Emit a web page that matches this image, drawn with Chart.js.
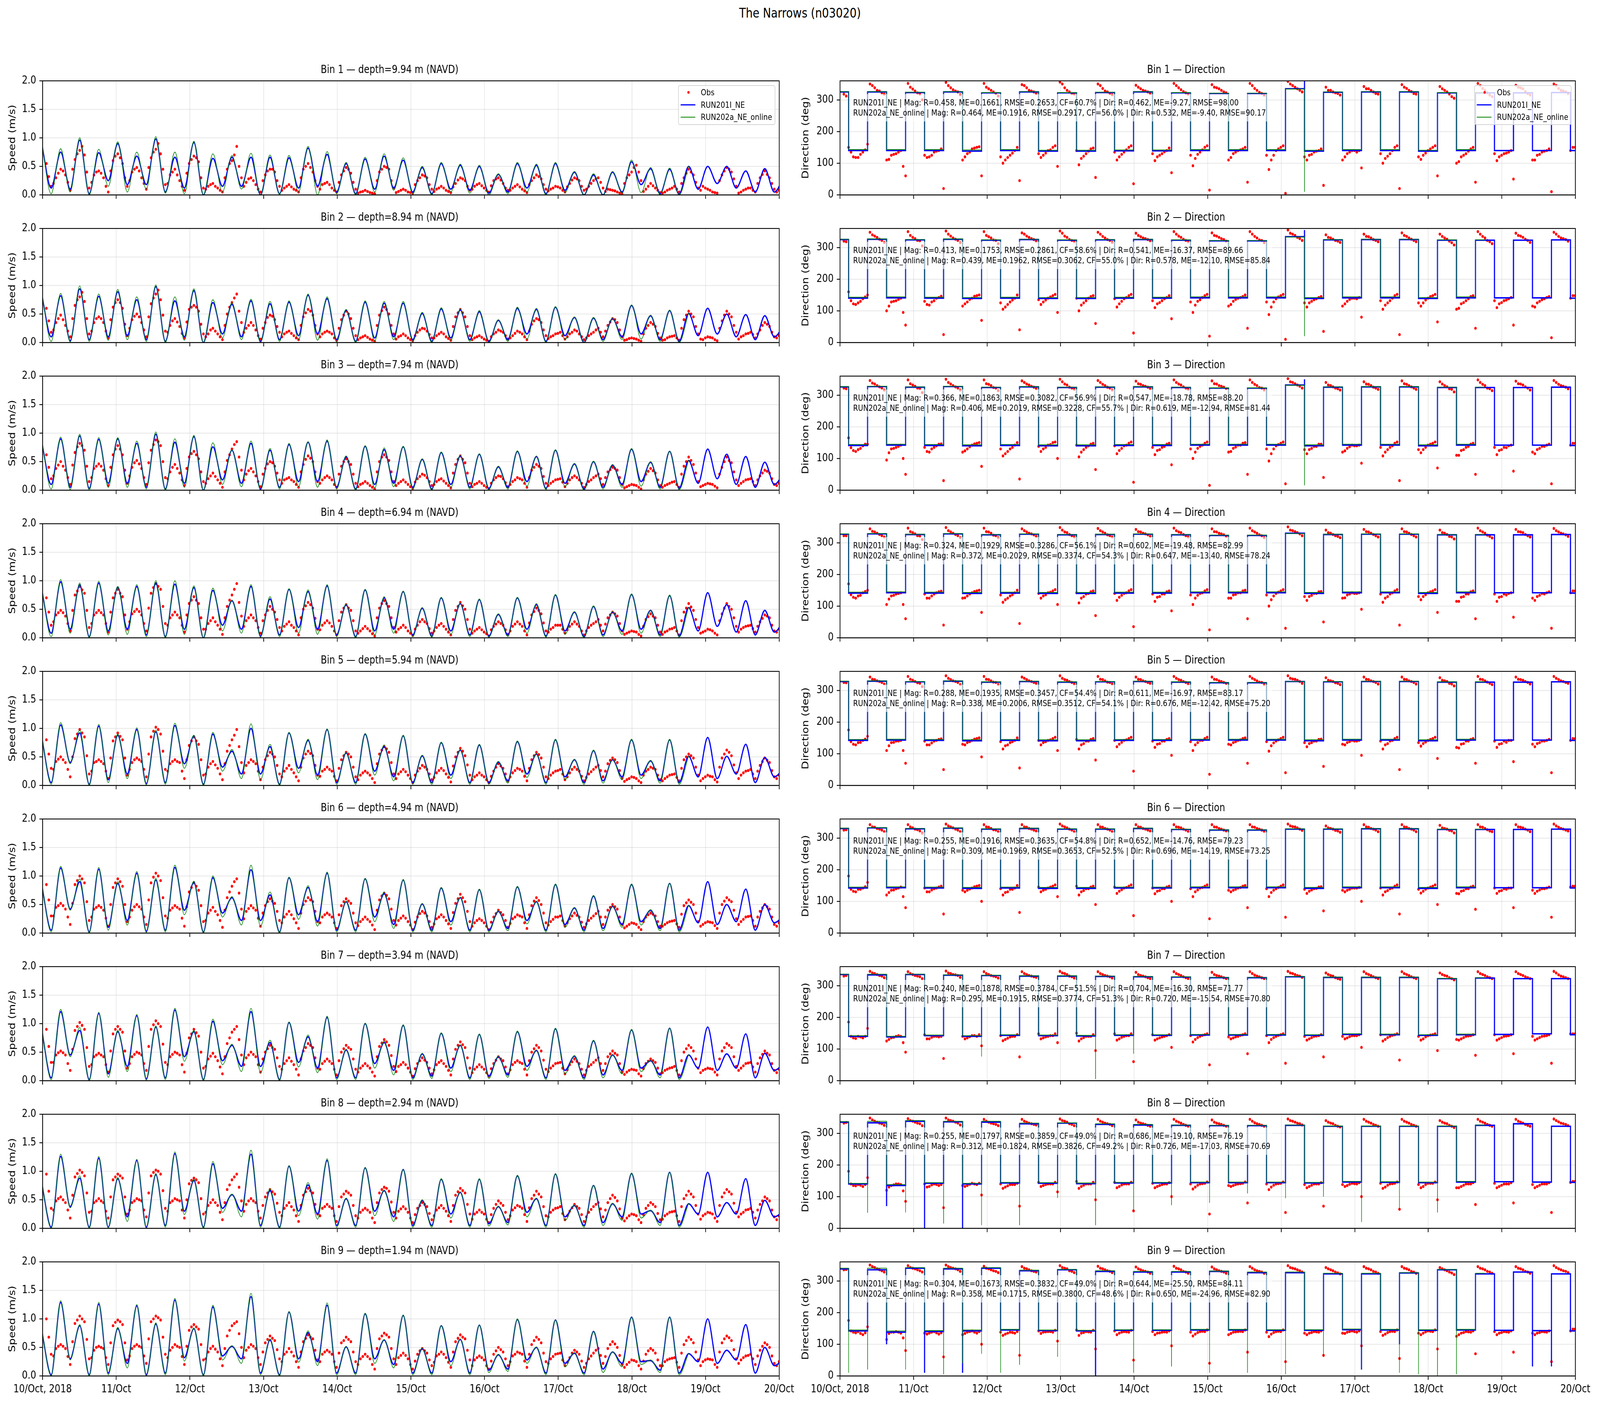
<!DOCTYPE html>
<html>
<head>
<meta charset="utf-8">
<script src="https://cdn.jsdelivr.net/npm/chart.js@4.4.1/dist/chart.umd.min.js"></script>
<style>
  html, body { margin: 0; padding: 0; background: #fff; overflow: hidden; }
  body { position: relative; font-family: 'DejaVu Sans', sans-serif; color: #000; }
  #root { position: absolute; left: 0; top: 0; width: 5000px; height: 3600px; background: #fff; transform-origin: 0 0; }
  canvas { position: absolute; }
  #suptitle { position: absolute; left: 0; top: 13px; width: 5000px; text-align: center; font-size: 34px; line-height: 40px; }
  .stats { position: absolute; font-size: 22px; line-height: 26px; padding: 9px 6px 9px 8px; background: rgba(255,255,255,0.6); white-space: pre; }
  .legend { position: absolute; width: 300px; height: 97px; padding-top: 1px; border: 2px solid #d4d4d4; border-radius: 6px; background: rgba(255,255,255,0.8); font-size: 22px; }
  .legend .row { position: relative; height: 31.5px; line-height: 31.5px; padding-left: 69px; white-space: nowrap; }
  .legend .dot { position: absolute; left: 27px; top: 12px; width: 7px; height: 7px; border-radius: 50%; background: #ff0000; }
  .legend .ln { position: absolute; left: 6px; width: 46px; }
</style>
</head>
<body>
<div id="root"><div id="suptitle">The Narrows (n03020)</div></div>
<script>
// ---- axis labels / titles ----
const DAY_LABELS = ['10/Oct, 2018', '11/Oct', '12/Oct', '13/Oct', '14/Oct', '15/Oct', '16/Oct', '17/Oct', '18/Oct', '19/Oct', '20/Oct'];
const BIN_DEPTHS = ['9.94', '8.94', '7.94', '6.94', '5.94', '4.94', '3.94', '2.94', '1.94'];
const SERIES = ['Obs', 'RUN201I_NE', 'RUN202a_NE_online'];

// sampling of the series (hours after 10/Oct 00:00)
const SPEED_T0 = -0.3, SPEED_DT = 3.1;   // model speed: alternating tide peak / slack
const DIR_T0 = -0.3, DIR_DT = 6.2;       // model direction: one value per half tide
const OBS_T0 = 1.25, OBS_DT = 1.55;      // observations, set A
const OBS_B_T0 = 2.025;                  // observations, set B (between the A samples)

// ---- model speed (m/s) ----
const speed201_1 = [0.90,0.12,0.75,0.10,0.96,0.02,0.74,0.25,0.90,0.18,0.68,0.18,0.98,0.05,0.66,0.12,0.92,0.00,0.64,0.15,0.66,0.15,0.66,0.00,0.66,0.02,0.65,0.12,0.82,0.15,0.71,0.05,0.55,0.02,0.63,0.10,0.68,0.12,0.61,0.05,0.48,0.02,0.55,0.10,0.52,0.08,0.50,0.03,0.36,0.05,0.55,0.12,0.52,0.02,0.55,0.08,0.40,0.00,0.35,0.00,0.40,0.05,0.58,0.18,0.46,0.02,0.45,0.01,0.50,0.10,0.50,0.20,0.50,0.12,0.42,0.05,0.46,0.05,0.30];
const speed202_1 = [0.92,0.02,0.81,0.05,1.00,0.00,0.80,0.15,0.93,0.05,0.75,0.10,1.02,0.03,0.75,0.02,0.94,0.00,0.72,0.05,0.69,0.10,0.73,0.00,0.70,0.01,0.69,0.05,0.85,0.00,0.76,0.02,0.57,0.00,0.66,0.05,0.72,0.08,0.65,0.02,0.50,0.00,0.57,0.05,0.54,0.03,0.52,0.00,0.37,0.02,0.57,0.05,0.54,0.00,0.57,0.04,0.41,0.00,0.37,0.00,0.41,0.03,0.61,0.04,0.48,0.00,0.47,0.00,0.51];
const speed201_2 = [0.85,0.10,0.82,0.03,0.94,0.05,0.81,0.10,0.89,0.12,0.75,0.05,0.98,0.02,0.73,0.10,0.91,0.00,0.70,0.15,0.67,0.10,0.73,0.02,0.68,0.05,0.71,0.12,0.83,0.15,0.77,0.05,0.57,0.02,0.71,0.08,0.69,0.10,0.69,0.05,0.51,0.02,0.59,0.08,0.57,0.05,0.54,0.02,0.39,0.05,0.60,0.15,0.58,0.02,0.62,0.12,0.44,0.00,0.43,0.05,0.42,0.10,0.65,0.15,0.47,0.05,0.56,0.02,0.51,0.12,0.60,0.15,0.50,0.10,0.49,0.05,0.47,0.10,0.30];
const speed202_2 = [0.88,0.02,0.86,0.01,0.99,0.02,0.85,0.04,0.93,0.05,0.80,0.02,1.01,0.00,0.80,0.04,0.94,0.00,0.75,0.08,0.70,0.05,0.76,0.00,0.72,0.02,0.73,0.05,0.85,0.04,0.80,0.01,0.58,0.00,0.73,0.03,0.72,0.05,0.72,0.02,0.53,0.00,0.61,0.04,0.59,0.02,0.56,0.00,0.40,0.02,0.62,0.06,0.60,0.00,0.63,0.05,0.45,0.00,0.44,0.02,0.43,0.05,0.66,0.06,0.48,0.02,0.57,0.00,0.52];
const speed201_3 = [0.85,0.10,0.90,0.05,0.95,0.03,0.89,0.12,0.90,0.12,0.82,0.05,0.98,0.02,0.84,0.12,0.94,0.00,0.76,0.18,0.70,0.12,0.82,0.02,0.70,0.05,0.80,0.15,0.84,0.15,0.86,0.05,0.59,0.02,0.77,0.10,0.71,0.12,0.76,0.05,0.54,0.02,0.66,0.10,0.60,0.05,0.63,0.03,0.41,0.05,0.68,0.15,0.59,0.03,0.70,0.12,0.46,0.02,0.50,0.05,0.44,0.10,0.72,0.15,0.49,0.05,0.68,0.03,0.52,0.12,0.72,0.20,0.63,0.10,0.59,0.05,0.49,0.10,0.30];
const speed202_3 = [0.88,0.02,0.93,0.01,0.98,0.00,0.92,0.05,0.92,0.05,0.86,0.02,1.02,0.00,0.90,0.05,0.96,0.00,0.83,0.10,0.71,0.06,0.86,0.00,0.73,0.02,0.82,0.06,0.85,0.05,0.88,0.02,0.60,0.00,0.78,0.04,0.74,0.06,0.77,0.02,0.55,0.00,0.67,0.05,0.61,0.02,0.64,0.01,0.42,0.02,0.69,0.07,0.60,0.01,0.71,0.06,0.47,0.00,0.51,0.02,0.45,0.05,0.73,0.07,0.50,0.02,0.68,0.01,0.53];
const speed201_4 = [0.85,0.08,0.98,0.15,0.93,0.02,0.96,0.12,0.89,0.15,0.90,0.05,0.96,0.02,0.94,0.15,0.88,0.00,0.83,0.22,0.65,0.15,0.90,0.03,0.68,0.05,0.85,0.18,0.81,0.15,0.91,0.05,0.58,0.02,0.84,0.12,0.70,0.15,0.81,0.05,0.52,0.03,0.70,0.12,0.60,0.05,0.67,0.03,0.41,0.05,0.70,0.15,0.58,0.03,0.75,0.12,0.45,0.02,0.55,0.05,0.45,0.12,0.76,0.15,0.48,0.05,0.74,0.03,0.53,0.12,0.79,0.20,0.58,0.10,0.65,0.05,0.48,0.10,0.30];
const speed202_4 = [0.87,0.02,1.02,0.08,0.96,0.00,0.99,0.05,0.90,0.06,0.93,0.02,1.00,0.00,1.00,0.06,0.91,0.00,0.87,0.12,0.66,0.08,0.93,0.01,0.72,0.02,0.86,0.08,0.84,0.06,0.93,0.02,0.59,0.00,0.85,0.05,0.72,0.08,0.82,0.02,0.53,0.01,0.71,0.06,0.61,0.02,0.68,0.01,0.42,0.02,0.71,0.08,0.60,0.01,0.76,0.06,0.46,0.00,0.56,0.02,0.46,0.06,0.77,0.08,0.48,0.02,0.75,0.01,0.54];
const speed201_5 = [0.85,0.05,1.06,0.40,0.92,0.02,1.04,0.10,0.88,0.20,0.98,0.03,0.94,0.05,1.05,0.38,0.87,0.02,0.90,0.32,0.60,0.20,1.00,0.20,0.68,0.02,0.92,0.30,0.79,0.18,0.98,0.05,0.57,0.05,0.90,0.25,0.68,0.15,0.87,0.05,0.52,0.05,0.75,0.18,0.62,0.05,0.71,0.05,0.41,0.08,0.77,0.20,0.55,0.05,0.80,0.15,0.45,0.05,0.61,0.08,0.45,0.15,0.80,0.18,0.43,0.08,0.80,0.05,0.51,0.15,0.84,0.12,0.51,0.20,0.72,0.05,0.49,0.15,0.30];
const speed202_5 = [0.87,0.02,1.10,0.38,0.97,0.00,1.07,0.05,0.90,0.12,1.01,0.01,0.97,0.02,1.09,0.30,0.88,0.00,0.93,0.25,0.63,0.12,1.08,0.10,0.72,0.00,0.93,0.22,0.81,0.10,0.99,0.02,0.58,0.02,0.91,0.18,0.71,0.08,0.88,0.02,0.53,0.02,0.76,0.12,0.63,0.02,0.72,0.02,0.42,0.04,0.78,0.14,0.56,0.02,0.81,0.10,0.46,0.02,0.62,0.04,0.46,0.10,0.81,0.12,0.44,0.04,0.81,0.02,0.52];
const speed201_6 = [0.85,0.05,1.14,0.42,0.90,0.02,1.12,0.10,0.87,0.22,1.05,0.03,0.93,0.05,1.15,0.40,0.89,0.02,0.97,0.35,0.62,0.22,1.11,0.22,0.67,0.02,0.97,0.32,0.80,0.20,1.05,0.05,0.55,0.05,0.95,0.28,0.69,0.15,0.93,0.05,0.51,0.05,0.79,0.20,0.62,0.05,0.76,0.05,0.38,0.08,0.81,0.22,0.55,0.05,0.85,0.15,0.44,0.05,0.65,0.08,0.47,0.15,0.85,0.20,0.40,0.08,0.87,0.05,0.48,0.18,0.90,0.15,0.50,0.20,0.77,0.05,0.50,0.18,0.30];
const speed202_6 = [0.87,0.02,1.17,0.40,0.95,0.00,1.15,0.05,0.90,0.14,1.08,0.01,0.96,0.02,1.19,0.32,0.91,0.00,1.00,0.28,0.64,0.14,1.19,0.12,0.72,0.00,0.98,0.24,0.83,0.12,1.07,0.02,0.56,0.02,0.96,0.20,0.72,0.08,0.94,0.02,0.52,0.02,0.80,0.14,0.63,0.02,0.77,0.02,0.39,0.04,0.82,0.16,0.56,0.02,0.86,0.10,0.45,0.02,0.66,0.04,0.48,0.10,0.86,0.14,0.41,0.04,0.87,0.02,0.49];
const speed201_7 = [0.90,0.05,1.21,0.45,0.88,0.02,1.18,0.12,0.86,0.25,1.14,0.03,0.94,0.05,1.24,0.42,0.86,0.02,1.04,0.35,0.62,0.25,1.21,0.25,0.67,0.02,1.02,0.32,0.77,0.22,1.11,0.05,0.54,0.05,1.00,0.30,0.67,0.18,0.97,0.05,0.47,0.08,0.83,0.22,0.62,0.05,0.81,0.08,0.42,0.10,0.86,0.25,0.53,0.05,0.91,0.18,0.43,0.05,0.70,0.10,0.45,0.18,0.89,0.22,0.35,0.10,0.92,0.05,0.45,0.22,0.94,0.18,0.47,0.22,0.82,0.05,0.48,0.18,0.30];
const speed202_7 = [0.92,0.02,1.25,0.42,0.93,0.00,1.20,0.06,0.88,0.16,1.16,0.01,0.96,0.02,1.27,0.34,0.88,0.00,1.08,0.28,0.64,0.16,1.27,0.14,0.71,0.00,1.03,0.24,0.80,0.14,1.13,0.02,0.55,0.02,1.01,0.22,0.69,0.10,0.98,0.02,0.48,0.04,0.84,0.16,0.63,0.02,0.82,0.04,0.43,0.06,0.87,0.18,0.54,0.02,0.92,0.12,0.44,0.02,0.71,0.05,0.46,0.12,0.90,0.16,0.36,0.05,0.92,0.02,0.46];
const speed201_8 = [0.80,0.02,1.26,0.38,0.88,0.02,1.23,0.02,0.87,0.20,1.19,0.02,0.94,0.05,1.31,0.30,0.84,0.02,1.13,0.35,0.59,0.30,1.30,0.05,0.66,0.02,1.09,0.30,0.76,0.25,1.19,0.05,0.52,0.05,1.06,0.30,0.66,0.20,1.03,0.05,0.49,0.05,0.86,0.25,0.63,0.05,0.86,0.08,0.38,0.10,0.92,0.28,0.52,0.05,0.95,0.20,0.40,0.05,0.75,0.10,0.43,0.20,0.96,0.25,0.31,0.10,0.98,0.05,0.43,0.25,0.98,0.20,0.45,0.25,0.87,0.05,0.49,0.20,0.30];
const speed202_8 = [0.82,0.00,1.30,0.36,0.92,0.00,1.26,0.01,0.89,0.12,1.21,0.00,0.96,0.02,1.34,0.24,0.86,0.00,1.17,0.28,0.60,0.20,1.37,0.02,0.69,0.00,1.10,0.22,0.80,0.16,1.22,0.02,0.53,0.02,1.07,0.22,0.67,0.12,1.03,0.02,0.50,0.02,0.87,0.18,0.64,0.02,0.87,0.04,0.39,0.06,0.93,0.20,0.53,0.02,0.96,0.14,0.41,0.02,0.75,0.05,0.44,0.14,0.97,0.18,0.32,0.05,0.98,0.02,0.44];
const speed201_9 = [0.80,0.02,1.29,0.30,0.88,0.02,1.26,0.05,0.83,0.22,1.23,0.02,0.91,0.05,1.33,0.32,0.83,0.02,1.21,0.35,0.52,0.30,1.39,0.05,0.63,0.02,1.12,0.30,0.76,0.25,1.24,0.05,0.51,0.05,1.09,0.30,0.63,0.20,1.06,0.05,0.48,0.05,0.88,0.25,0.64,0.05,0.89,0.10,0.37,0.12,0.99,0.28,0.50,0.05,0.98,0.22,0.40,0.05,0.78,0.12,0.42,0.22,1.03,0.25,0.27,0.10,1.03,0.05,0.39,0.25,1.00,0.22,0.45,0.28,0.90,0.05,0.50,0.18,0.30];
const speed202_9 = [0.82,0.00,1.32,0.28,0.90,0.00,1.29,0.02,0.85,0.14,1.25,0.00,0.93,0.02,1.36,0.26,0.84,0.00,1.24,0.28,0.53,0.22,1.45,0.02,0.65,0.00,1.13,0.24,0.79,0.18,1.28,0.02,0.52,0.02,1.10,0.22,0.64,0.14,1.07,0.02,0.49,0.02,0.88,0.18,0.65,0.02,0.89,0.06,0.38,0.08,1.00,0.22,0.51,0.02,0.98,0.16,0.41,0.02,0.78,0.06,0.42,0.16,1.03,0.20,0.28,0.06,1.03,0.02,0.40];

// ---- observed speed (m/s), set A ----
const obsSpeed_1 = [0.55,0.15,0.30,0.45,0.35,0.08,0.62,0.78,0.70,0.12,0.35,0.42,0.30,0.05,0.60,0.72,0.55,0.15,0.40,0.48,0.30,0.10,0.65,0.80,0.72,0.18,0.35,0.45,0.25,0.08,0.55,0.68,0.58,0.12,0.15,0.20,0.12,0.05,0.45,0.60,0.85,0.30,0.22,0.30,0.18,0.05,0.35,0.45,0.40,0.15,0.12,0.18,0.10,0.05,0.45,0.55,0.40,0.15,0.18,0.22,0.12,0.05,0.35,0.48,0.38,0.10,0.05,0.08,0.04,0.02,0.40,0.50,0.45,0.12,0.06,0.10,0.05,0.03,0.25,0.35,0.30,0.10,0.10,0.15,0.08,0.04,0.20,0.30,0.25,0.08,0.15,0.20,0.12,0.05,0.25,0.30,0.20,0.08,0.12,0.18,0.10,0.04,0.25,0.35,0.28,0.10,0.10,0.15,0.12,0.05,0.20,0.30,0.25,0.08,0.15,0.25,0.30,0.12,0.10,0.08,0.05,0.02,0.30,0.40,0.52,0.25,0.10,0.20,0.12,0.04,0.05,0.10,0.15,0.05,0.30,0.45,0.35,0.12,0.15,0.10,0.05,0.03,0.35,0.48,0.40,0.15,0.05,0.10,0.12,0.05,0.30,0.42,0.30,0.10,0.08];
const obsSpeed_2 = [0.60,0.18,0.35,0.48,0.30,0.10,0.65,0.80,0.72,0.15,0.35,0.45,0.35,0.08,0.62,0.75,0.60,0.12,0.40,0.50,0.35,0.10,0.68,0.85,0.75,0.20,0.30,0.42,0.28,0.08,0.58,0.65,0.55,0.15,0.15,0.25,0.15,0.05,0.50,0.70,0.85,0.35,0.25,0.35,0.22,0.06,0.35,0.48,0.40,0.18,0.15,0.20,0.12,0.05,0.45,0.58,0.48,0.15,0.15,0.20,0.15,0.04,0.40,0.55,0.42,0.12,0.08,0.12,0.06,0.02,0.48,0.62,0.50,0.15,0.10,0.15,0.08,0.03,0.18,0.25,0.20,0.08,0.12,0.18,0.10,0.04,0.45,0.58,0.45,0.12,0.08,0.12,0.06,0.02,0.15,0.22,0.18,0.06,0.12,0.20,0.15,0.05,0.32,0.42,0.35,0.12,0.10,0.15,0.18,0.06,0.15,0.22,0.15,0.05,0.12,0.18,0.25,0.10,0.30,0.42,0.35,0.10,0.05,0.08,0.06,0.02,0.25,0.35,0.28,0.08,0.05,0.10,0.12,0.04,0.40,0.55,0.45,0.15,0.05,0.10,0.08,0.03,0.38,0.55,0.45,0.18,0.10,0.15,0.18,0.08,0.22,0.35,0.28,0.10,0.12];
const obsSpeed_3 = [0.62,0.20,0.38,0.50,0.35,0.10,0.66,0.82,0.70,0.15,0.38,0.46,0.35,0.08,0.62,0.78,0.62,0.12,0.40,0.52,0.38,0.10,0.70,0.88,0.78,0.22,0.32,0.45,0.30,0.08,0.58,0.68,0.55,0.15,0.20,0.30,0.18,0.05,0.52,0.72,0.85,0.35,0.28,0.38,0.25,0.06,0.38,0.50,0.42,0.18,0.18,0.22,0.15,0.05,0.45,0.60,0.50,0.15,0.18,0.25,0.18,0.05,0.42,0.55,0.45,0.12,0.10,0.15,0.08,0.02,0.50,0.62,0.52,0.15,0.12,0.18,0.10,0.03,0.20,0.28,0.22,0.08,0.15,0.20,0.12,0.04,0.45,0.60,0.48,0.12,0.10,0.15,0.08,0.02,0.18,0.25,0.20,0.06,0.15,0.22,0.18,0.05,0.35,0.45,0.38,0.12,0.12,0.18,0.20,0.06,0.18,0.25,0.18,0.05,0.15,0.22,0.28,0.10,0.32,0.40,0.35,0.10,0.06,0.10,0.08,0.02,0.28,0.38,0.30,0.08,0.08,0.12,0.15,0.05,0.42,0.58,0.45,0.15,0.08,0.12,0.10,0.04,0.40,0.58,0.48,0.18,0.12,0.18,0.20,0.08,0.25,0.35,0.30,0.10,0.12];
const obsSpeed_4 = [0.70,0.22,0.40,0.48,0.38,0.12,0.75,0.90,0.78,0.18,0.40,0.48,0.40,0.10,0.70,0.85,0.72,0.15,0.42,0.50,0.40,0.12,0.78,0.95,0.85,0.25,0.35,0.45,0.35,0.10,0.60,0.72,0.60,0.15,0.25,0.35,0.22,0.06,0.55,0.75,0.95,0.38,0.30,0.40,0.30,0.08,0.40,0.55,0.45,0.18,0.20,0.28,0.18,0.05,0.50,0.62,0.52,0.15,0.22,0.30,0.20,0.05,0.45,0.58,0.48,0.12,0.12,0.20,0.12,0.03,0.52,0.65,0.55,0.18,0.15,0.22,0.12,0.04,0.22,0.32,0.25,0.08,0.18,0.25,0.15,0.05,0.48,0.62,0.50,0.15,0.12,0.18,0.10,0.03,0.20,0.28,0.22,0.06,0.20,0.28,0.20,0.05,0.40,0.52,0.42,0.12,0.15,0.22,0.22,0.08,0.20,0.28,0.20,0.05,0.18,0.25,0.32,0.12,0.35,0.45,0.38,0.12,0.08,0.12,0.10,0.03,0.32,0.42,0.35,0.10,0.10,0.15,0.18,0.05,0.45,0.60,0.48,0.18,0.10,0.15,0.12,0.05,0.42,0.60,0.50,0.20,0.15,0.20,0.22,0.10,0.28,0.40,0.35,0.12,0.15];
const obsSpeed_5 = [0.80,0.30,0.42,0.50,0.40,0.15,0.82,0.98,0.85,0.20,0.40,0.45,0.38,0.12,0.78,0.92,0.80,0.18,0.40,0.48,0.42,0.15,0.85,1.02,0.90,0.28,0.38,0.45,0.40,0.12,0.70,0.85,0.72,0.18,0.32,0.42,0.30,0.10,0.60,0.80,0.98,0.40,0.35,0.45,0.38,0.10,0.45,0.58,0.50,0.20,0.25,0.35,0.22,0.08,0.48,0.60,0.52,0.18,0.25,0.32,0.25,0.08,0.45,0.58,0.50,0.15,0.18,0.25,0.18,0.05,0.55,0.68,0.58,0.20,0.20,0.28,0.18,0.05,0.25,0.35,0.28,0.10,0.22,0.30,0.20,0.06,0.50,0.65,0.52,0.18,0.15,0.22,0.15,0.05,0.25,0.38,0.30,0.08,0.22,0.30,0.25,0.08,0.45,0.58,0.48,0.15,0.18,0.25,0.28,0.10,0.22,0.32,0.25,0.08,0.20,0.28,0.35,0.15,0.38,0.48,0.40,0.12,0.10,0.15,0.12,0.05,0.25,0.32,0.28,0.10,0.12,0.18,0.20,0.08,0.45,0.55,0.48,0.18,0.12,0.18,0.15,0.06,0.48,0.62,0.52,0.22,0.18,0.25,0.28,0.12,0.35,0.48,0.40,0.15,0.18];
const obsSpeed_6 = [0.85,0.30,0.45,0.52,0.42,0.15,0.85,1.00,0.88,0.22,0.42,0.48,0.40,0.12,0.80,0.95,0.82,0.20,0.40,0.50,0.42,0.15,0.88,1.05,0.92,0.30,0.40,0.48,0.42,0.12,0.72,0.88,0.75,0.20,0.35,0.45,0.32,0.10,0.62,0.82,0.95,0.42,0.38,0.48,0.40,0.12,0.48,0.60,0.52,0.22,0.28,0.38,0.25,0.08,0.50,0.62,0.55,0.20,0.28,0.35,0.28,0.08,0.48,0.60,0.52,0.18,0.20,0.28,0.20,0.06,0.58,0.70,0.60,0.22,0.22,0.30,0.20,0.06,0.28,0.38,0.30,0.10,0.25,0.32,0.22,0.08,0.52,0.68,0.55,0.20,0.18,0.25,0.18,0.06,0.28,0.40,0.32,0.10,0.25,0.32,0.28,0.08,0.48,0.62,0.50,0.18,0.20,0.28,0.30,0.12,0.25,0.35,0.28,0.10,0.22,0.30,0.38,0.15,0.40,0.50,0.42,0.15,0.12,0.18,0.15,0.06,0.28,0.35,0.30,0.12,0.15,0.20,0.22,0.10,0.48,0.58,0.50,0.20,0.15,0.20,0.18,0.08,0.50,0.62,0.55,0.25,0.20,0.28,0.30,0.12,0.38,0.50,0.42,0.15,0.18];
const obsSpeed_7 = [0.90,0.32,0.45,0.52,0.45,0.18,0.88,1.02,0.90,0.25,0.42,0.48,0.42,0.15,0.82,0.95,0.85,0.22,0.42,0.50,0.45,0.18,0.90,1.05,0.95,0.32,0.42,0.50,0.45,0.15,0.75,0.90,0.78,0.22,0.38,0.48,0.35,0.12,0.65,0.85,0.95,0.45,0.40,0.50,0.42,0.15,0.50,0.62,0.55,0.25,0.30,0.40,0.28,0.10,0.52,0.65,0.58,0.22,0.30,0.38,0.30,0.10,0.50,0.62,0.55,0.20,0.22,0.30,0.22,0.08,0.60,0.72,0.62,0.25,0.25,0.32,0.22,0.08,0.30,0.40,0.32,0.12,0.28,0.35,0.25,0.10,0.55,0.68,0.58,0.22,0.20,0.28,0.20,0.08,0.30,0.42,0.35,0.12,0.28,0.35,0.30,0.10,0.50,0.62,0.52,0.20,0.22,0.30,0.32,0.12,0.28,0.38,0.30,0.10,0.25,0.32,0.40,0.18,0.42,0.52,0.45,0.15,0.15,0.20,0.18,0.08,0.30,0.38,0.32,0.12,0.18,0.22,0.25,0.10,0.50,0.62,0.52,0.22,0.18,0.22,0.20,0.10,0.52,0.65,0.58,0.25,0.22,0.30,0.32,0.15,0.40,0.52,0.45,0.18,0.20];
const obsSpeed_8 = [0.95,0.35,0.48,0.55,0.45,0.18,0.90,1.02,0.92,0.28,0.45,0.52,0.45,0.18,0.85,0.95,0.88,0.25,0.45,0.52,0.48,0.20,0.92,1.02,0.95,0.35,0.45,0.52,0.48,0.18,0.78,0.88,0.80,0.25,0.40,0.50,0.40,0.15,0.68,0.85,0.95,0.48,0.42,0.52,0.45,0.18,0.55,0.68,0.60,0.28,0.35,0.45,0.32,0.12,0.58,0.70,0.62,0.25,0.35,0.42,0.35,0.12,0.55,0.65,0.58,0.22,0.28,0.35,0.28,0.10,0.62,0.72,0.65,0.28,0.30,0.38,0.28,0.10,0.35,0.45,0.38,0.15,0.32,0.40,0.30,0.12,0.58,0.70,0.62,0.25,0.25,0.32,0.25,0.10,0.35,0.48,0.40,0.15,0.32,0.40,0.35,0.12,0.52,0.65,0.55,0.22,0.28,0.35,0.38,0.15,0.30,0.42,0.35,0.12,0.28,0.38,0.45,0.20,0.45,0.58,0.48,0.18,0.18,0.25,0.22,0.10,0.35,0.45,0.38,0.15,0.22,0.28,0.30,0.12,0.52,0.65,0.55,0.25,0.22,0.28,0.25,0.12,0.55,0.68,0.60,0.28,0.25,0.32,0.35,0.18,0.42,0.55,0.48,0.20,0.22];
const obsSpeed_9 = [1.00,0.38,0.48,0.55,0.48,0.20,0.92,1.05,0.95,0.30,0.45,0.52,0.48,0.20,0.88,0.98,0.90,0.28,0.48,0.55,0.50,0.22,0.95,1.05,0.98,0.38,0.45,0.55,0.50,0.20,0.80,0.90,0.82,0.28,0.42,0.52,0.42,0.18,0.70,0.88,0.95,0.50,0.45,0.55,0.48,0.20,0.58,0.70,0.62,0.30,0.38,0.48,0.35,0.15,0.60,0.72,0.65,0.28,0.38,0.45,0.38,0.15,0.58,0.68,0.60,0.25,0.30,0.38,0.30,0.12,0.65,0.75,0.68,0.30,0.32,0.40,0.30,0.12,0.38,0.48,0.40,0.18,0.35,0.42,0.32,0.15,0.60,0.72,0.65,0.28,0.28,0.35,0.28,0.12,0.38,0.50,0.42,0.18,0.35,0.42,0.38,0.15,0.55,0.68,0.58,0.25,0.30,0.38,0.40,0.18,0.32,0.45,0.38,0.15,0.30,0.40,0.48,0.22,0.48,0.60,0.50,0.20,0.20,0.28,0.25,0.12,0.38,0.48,0.40,0.18,0.25,0.30,0.32,0.15,0.55,0.68,0.58,0.28,0.25,0.30,0.28,0.15,0.58,0.70,0.62,0.30,0.28,0.35,0.38,0.20,0.45,0.58,0.50,0.22,0.25];

// ---- observed speed (m/s), set B ----
const obsSpeedB_1 = [0.32,0.20,0.38,0.42,0.22,0.45,0.72,0.85,0.40,0.22,0.40,0.38,0.15,0.42,0.68,0.65,0.30,0.25,0.45,0.42,0.20,0.48,0.75,0.90,0.45,0.20,0.40,0.35,0.15,0.38,0.62,0.65,0.30,0.10,0.18,0.15,0.08,0.30,0.55,0.70,0.50,0.15,0.28,0.25,0.10,0.25,0.42,0.45,0.25,0.08,0.15,0.14,0.08,0.30,0.50,0.48,0.25,0.10,0.20,0.18,0.08,0.22,0.42,0.45,0.22,0.03,0.06,0.06,0.03,0.25,0.45,0.48,0.25,0.04,0.08,0.08,0.04,0.18,0.30,0.33,0.18,0.06,0.12,0.12,0.06,0.14,0.26,0.28,0.15,0.10,0.18,0.16,0.08,0.16,0.28,0.26,0.12,0.08,0.15,0.14,0.07,0.18,0.30,0.32,0.18,0.07,0.12,0.14,0.08,0.14,0.26,0.28,0.15,0.10,0.20,0.28,0.22,0.06,0.09,0.07,0.03,0.20,0.35,0.48,0.40,0.06,0.15,0.16,0.08,0.03,0.08,0.12,0.10,0.20,0.38,0.40,0.22,0.08,0.12,0.08,0.04,0.25,0.42,0.45,0.28,0.03,0.08,0.12,0.08,0.20,0.36,0.36,0.20,0.05,0.10];
const obsSpeedB_2 = [0.38,0.22,0.42,0.40,0.20,0.42,0.75,0.88,0.42,0.20,0.42,0.42,0.20,0.40,0.70,0.70,0.32,0.25,0.46,0.45,0.22,0.45,0.78,0.92,0.48,0.18,0.38,0.36,0.16,0.36,0.62,0.62,0.32,0.10,0.22,0.20,0.10,0.30,0.62,0.78,0.55,0.18,0.30,0.30,0.12,0.25,0.44,0.46,0.28,0.10,0.18,0.16,0.08,0.30,0.52,0.55,0.30,0.10,0.18,0.18,0.08,0.25,0.48,0.50,0.25,0.05,0.10,0.09,0.04,0.30,0.56,0.58,0.30,0.06,0.12,0.12,0.05,0.12,0.22,0.24,0.14,0.08,0.15,0.15,0.07,0.28,0.52,0.52,0.28,0.05,0.10,0.09,0.04,0.10,0.18,0.20,0.12,0.08,0.16,0.18,0.10,0.20,0.38,0.40,0.22,0.07,0.12,0.16,0.12,0.10,0.18,0.20,0.10,0.08,0.15,0.22,0.18,0.20,0.36,0.40,0.22,0.04,0.07,0.07,0.04,0.15,0.30,0.32,0.16,0.04,0.08,0.11,0.08,0.25,0.48,0.50,0.28,0.06,0.08,0.09,0.05,0.25,0.48,0.50,0.30,0.06,0.12,0.16,0.14,0.15,0.30,0.32,0.18,0.08,0.14];
const obsSpeedB_3 = [0.40,0.25,0.44,0.42,0.22,0.44,0.76,0.78,0.42,0.22,0.42,0.42,0.20,0.40,0.72,0.72,0.35,0.25,0.48,0.46,0.22,0.48,0.80,0.85,0.50,0.20,0.40,0.38,0.18,0.38,0.64,0.62,0.32,0.12,0.25,0.24,0.12,0.32,0.62,0.80,0.58,0.18,0.34,0.32,0.15,0.28,0.46,0.48,0.30,0.12,0.20,0.18,0.10,0.32,0.54,0.56,0.32,0.12,0.22,0.22,0.10,0.28,0.50,0.50,0.28,0.06,0.12,0.12,0.05,0.32,0.58,0.58,0.32,0.08,0.15,0.14,0.06,0.14,0.24,0.26,0.15,0.10,0.18,0.16,0.08,0.30,0.54,0.54,0.30,0.06,0.12,0.12,0.05,0.12,0.22,0.24,0.13,0.10,0.18,0.20,0.12,0.22,0.40,0.42,0.24,0.08,0.15,0.19,0.14,0.12,0.22,0.22,0.12,0.10,0.18,0.25,0.20,0.22,0.36,0.38,0.22,0.04,0.08,0.09,0.05,0.18,0.33,0.34,0.18,0.05,0.10,0.14,0.10,0.28,0.50,0.52,0.30,0.06,0.10,0.11,0.07,0.28,0.50,0.52,0.32,0.08,0.15,0.19,0.15,0.18,0.30,0.33,0.20,0.08,0.16];
const obsSpeedB_4 = [0.45,0.28,0.44,0.44,0.25,0.48,0.82,0.84,0.48,0.25,0.44,0.44,0.25,0.45,0.78,0.78,0.40,0.28,0.46,0.46,0.25,0.52,0.88,0.90,0.55,0.22,0.40,0.40,0.22,0.40,0.66,0.66,0.35,0.15,0.30,0.28,0.15,0.35,0.66,0.85,0.62,0.20,0.35,0.35,0.18,0.30,0.48,0.50,0.32,0.12,0.24,0.22,0.12,0.35,0.56,0.58,0.34,0.14,0.26,0.26,0.12,0.30,0.52,0.52,0.30,0.08,0.16,0.16,0.07,0.35,0.60,0.60,0.35,0.10,0.18,0.18,0.08,0.15,0.28,0.28,0.16,0.12,0.22,0.20,0.10,0.32,0.55,0.56,0.32,0.08,0.15,0.14,0.07,0.14,0.24,0.25,0.14,0.12,0.24,0.24,0.12,0.26,0.46,0.48,0.26,0.10,0.18,0.22,0.15,0.14,0.24,0.24,0.12,0.12,0.22,0.28,0.22,0.24,0.40,0.42,0.25,0.06,0.10,0.11,0.06,0.20,0.37,0.38,0.22,0.06,0.12,0.16,0.12,0.30,0.52,0.54,0.32,0.08,0.12,0.14,0.08,0.30,0.52,0.55,0.35,0.10,0.18,0.21,0.16,0.20,0.34,0.38,0.22,0.10,0.20];
const obsSpeedB_5 = [0.55,0.28,0.46,0.45,0.28,0.50,0.90,0.92,0.52,0.25,0.42,0.42,0.25,0.48,0.85,0.86,0.48,0.28,0.45,0.45,0.28,0.55,0.95,0.98,0.60,0.25,0.42,0.42,0.25,0.45,0.78,0.78,0.45,0.20,0.38,0.36,0.20,0.38,0.70,0.88,0.68,0.22,0.40,0.42,0.25,0.32,0.52,0.55,0.35,0.15,0.30,0.28,0.15,0.32,0.55,0.56,0.35,0.16,0.28,0.28,0.16,0.30,0.52,0.55,0.32,0.10,0.22,0.22,0.12,0.38,0.62,0.64,0.40,0.12,0.24,0.24,0.12,0.18,0.30,0.32,0.20,0.14,0.26,0.26,0.14,0.34,0.58,0.60,0.36,0.10,0.18,0.18,0.10,0.16,0.32,0.34,0.20,0.15,0.26,0.28,0.16,0.30,0.52,0.54,0.32,0.12,0.22,0.26,0.20,0.15,0.28,0.28,0.16,0.14,0.24,0.32,0.26,0.25,0.44,0.45,0.26,0.07,0.12,0.14,0.08,0.18,0.28,0.30,0.18,0.08,0.15,0.19,0.14,0.30,0.50,0.52,0.32,0.08,0.15,0.16,0.10,0.32,0.55,0.58,0.36,0.12,0.22,0.26,0.20,0.25,0.42,0.44,0.26,0.12,0.22];
const obsSpeedB_6 = [0.58,0.30,0.48,0.48,0.28,0.52,0.92,0.95,0.55,0.28,0.45,0.45,0.26,0.50,0.88,0.90,0.50,0.28,0.46,0.46,0.28,0.58,0.98,1.00,0.62,0.26,0.44,0.45,0.26,0.46,0.80,0.82,0.48,0.22,0.40,0.38,0.22,0.40,0.72,0.90,0.70,0.25,0.43,0.44,0.26,0.35,0.55,0.56,0.38,0.18,0.33,0.32,0.18,0.35,0.56,0.58,0.38,0.18,0.32,0.32,0.18,0.32,0.55,0.56,0.35,0.13,0.24,0.24,0.14,0.40,0.65,0.66,0.42,0.14,0.26,0.26,0.14,0.19,0.34,0.35,0.20,0.16,0.28,0.28,0.16,0.36,0.60,0.62,0.38,0.12,0.22,0.22,0.12,0.19,0.34,0.36,0.22,0.17,0.28,0.30,0.18,0.32,0.56,0.57,0.35,0.14,0.24,0.28,0.22,0.18,0.30,0.31,0.19,0.16,0.26,0.34,0.28,0.28,0.45,0.46,0.28,0.09,0.15,0.17,0.10,0.20,0.32,0.33,0.20,0.12,0.18,0.21,0.16,0.33,0.53,0.54,0.35,0.12,0.18,0.19,0.13,0.35,0.56,0.58,0.40,0.15,0.24,0.29,0.22,0.28,0.44,0.46,0.28,0.12,0.22];
const obsSpeedB_7 = [0.60,0.32,0.49,0.49,0.30,0.55,0.95,0.97,0.58,0.28,0.45,0.45,0.28,0.52,0.90,0.90,0.52,0.30,0.46,0.48,0.30,0.60,0.98,1.00,0.64,0.28,0.46,0.48,0.28,0.48,0.82,0.84,0.50,0.25,0.43,0.42,0.24,0.42,0.75,0.90,0.72,0.28,0.45,0.46,0.28,0.38,0.56,0.58,0.40,0.20,0.35,0.34,0.20,0.38,0.58,0.62,0.40,0.20,0.34,0.34,0.20,0.35,0.56,0.58,0.38,0.15,0.26,0.26,0.15,0.42,0.66,0.68,0.44,0.16,0.28,0.28,0.15,0.21,0.35,0.36,0.22,0.19,0.32,0.30,0.18,0.38,0.62,0.63,0.40,0.14,0.24,0.24,0.14,0.21,0.36,0.38,0.24,0.19,0.32,0.32,0.20,0.35,0.56,0.58,0.36,0.16,0.26,0.31,0.22,0.19,0.33,0.34,0.20,0.18,0.28,0.36,0.30,0.30,0.47,0.48,0.30,0.11,0.18,0.19,0.12,0.21,0.34,0.35,0.22,0.14,0.20,0.23,0.18,0.35,0.56,0.58,0.38,0.14,0.20,0.21,0.15,0.38,0.58,0.62,0.42,0.18,0.26,0.31,0.24,0.30,0.46,0.48,0.30,0.14,0.24];
const obsSpeedB_8 = [0.65,0.32,0.52,0.50,0.32,0.58,0.96,0.98,0.62,0.30,0.48,0.48,0.30,0.55,0.90,0.92,0.55,0.32,0.48,0.50,0.32,0.62,0.98,1.00,0.66,0.30,0.48,0.50,0.32,0.50,0.84,0.85,0.52,0.28,0.45,0.45,0.28,0.45,0.76,0.90,0.72,0.30,0.48,0.48,0.30,0.40,0.62,0.64,0.44,0.22,0.40,0.38,0.22,0.40,0.64,0.66,0.42,0.22,0.38,0.38,0.22,0.38,0.60,0.62,0.40,0.18,0.32,0.32,0.18,0.45,0.68,0.70,0.46,0.18,0.34,0.34,0.18,0.24,0.40,0.42,0.26,0.22,0.36,0.35,0.22,0.40,0.64,0.66,0.42,0.16,0.28,0.28,0.16,0.24,0.42,0.44,0.28,0.22,0.36,0.38,0.24,0.36,0.58,0.60,0.38,0.20,0.32,0.36,0.26,0.22,0.36,0.38,0.24,0.20,0.33,0.42,0.34,0.32,0.52,0.54,0.34,0.13,0.22,0.24,0.15,0.24,0.40,0.42,0.26,0.16,0.25,0.29,0.22,0.38,0.58,0.60,0.40,0.16,0.25,0.27,0.18,0.40,0.62,0.64,0.44,0.20,0.28,0.33,0.28,0.32,0.48,0.52,0.32,0.15,0.26];
const obsSpeedB_9 = [0.68,0.35,0.52,0.52,0.34,0.60,0.98,1.00,0.64,0.32,0.50,0.50,0.32,0.58,0.94,0.95,0.58,0.35,0.52,0.52,0.35,0.65,1.00,1.02,0.68,0.32,0.50,0.52,0.34,0.52,0.86,0.86,0.55,0.30,0.48,0.47,0.30,0.48,0.80,0.92,0.74,0.32,0.50,0.52,0.32,0.42,0.64,0.66,0.46,0.25,0.42,0.42,0.25,0.42,0.66,0.68,0.45,0.25,0.42,0.42,0.25,0.40,0.62,0.64,0.42,0.20,0.34,0.34,0.20,0.48,0.70,0.72,0.48,0.20,0.36,0.36,0.20,0.26,0.44,0.44,0.28,0.24,0.38,0.38,0.24,0.42,0.66,0.68,0.45,0.18,0.32,0.32,0.18,0.26,0.44,0.46,0.30,0.25,0.38,0.40,0.26,0.38,0.62,0.64,0.40,0.22,0.34,0.39,0.28,0.24,0.40,0.42,0.26,0.22,0.35,0.45,0.36,0.34,0.55,0.56,0.36,0.15,0.24,0.27,0.18,0.26,0.44,0.45,0.28,0.18,0.28,0.31,0.24,0.40,0.62,0.64,0.42,0.18,0.28,0.29,0.20,0.42,0.65,0.67,0.46,0.22,0.32,0.36,0.30,0.35,0.52,0.55,0.35,0.18,0.28];

// ---- model direction (deg), one value per half tide ----
const dir201_1 = [325,140,325,140,323,140,325,138,322,140,325,138,322,138,323,139,325,139,322,140,320,140,320,140,335,138,324,140,325,140,325,138,322,140,322,140,322,140,323,140];
const dir202_1 = [326,143,326,143,324,143,326,142,323,143,326,141,323,141,324,142,326,142,323,143,321,143,321,143,334,141,325,143,326,143,326,141,323,143,323];
const dir201_2 = [325,140,326,141,324,140,326,139,323,140,325,139,323,139,324,140,325,140,323,141,321,141,321,141,334,139,324,141,325,141,325,139,323,141,323,141,323,141,324,140];
const dir202_2 = [326,143,327,144,325,143,327,142,324,143,326,142,324,142,325,143,326,143,324,144,322,144,322,144,333,142,325,144,326,144,326,142,324,144,324];
const dir201_3 = [326,141,327,142,325,141,327,140,324,141,326,140,324,140,325,141,326,141,324,142,322,142,322,142,332,140,325,142,326,142,326,140,324,142,324,142,324,142,325,141];
const dir202_3 = [327,144,328,145,326,144,328,143,325,144,327,143,325,143,326,144,327,144,325,145,323,145,323,145,331,143,326,145,327,145,327,143,325,145,325];
const dir201_4 = [327,141,328,142,326,141,328,140,325,141,327,140,325,140,326,141,327,141,325,142,323,142,323,142,330,140,326,142,327,142,327,140,325,142,325,142,325,142,326,141];
const dir202_4 = [328,144,329,145,327,144,329,143,326,144,328,143,326,143,327,144,328,144,326,145,324,145,324,145,329,143,327,145,328,145,328,143,326,145,326];
const dir201_5 = [328,142,329,143,327,142,329,141,326,142,328,141,326,141,327,142,328,142,326,143,324,143,324,143,328,141,327,143,328,143,328,141,326,143,326,143,326,143,327,142];
const dir202_5 = [329,145,330,146,328,145,330,144,327,145,329,144,327,144,328,145,329,145,327,146,325,146,325,146,328,144,328,146,329,146,329,144,327,146,327];
const dir201_6 = [330,142,332,143,329,142,331,141,328,142,330,141,328,141,328,142,330,142,327,143,325,143,325,143,328,141,328,143,329,143,329,141,327,143,327,143,327,143,328,142];
const dir202_6 = [331,145,333,146,330,145,332,144,329,145,331,144,329,144,329,145,331,145,328,146,326,146,326,146,329,144,329,146,330,146,330,144,328,146,328];
const dir201_7 = [335,140,334,138,335,142,333,140,332,143,330,142,330,141,329,143,328,143,327,144,325,144,325,144,328,143,326,146,326,145,326,143,322,145,324,146,322,148,322,145];
const dir202_7 = [336,142,336,140,336,144,334,142,333,145,331,144,331,143,330,145,329,145,328,146,326,146,326,146,329,145,327,148,327,147,327,145,323,147,325];
const dir201_8 = [335,140,333,135,338,142,336,140,335,143,330,142,332,141,328,143,326,143,325,144,324,144,324,144,325,143,322,146,322,145,322,144,322,146,325,147,330,146,322,145];
const dir202_8 = [337,142,338,138,340,144,338,142,338,145,332,144,333,143,330,145,328,145,326,146,325,146,325,146,326,145,323,148,323,147,323,146,323,148,326];
const dir201_9 = [338,142,335,138,340,140,338,142,340,145,332,143,335,142,330,144,328,144,328,145,330,145,326,144,326,144,322,146,322,145,325,144,335,145,322,144,328,143,322,142];
const dir202_9 = [340,145,340,142,342,143,340,145,342,147,334,145,336,144,332,146,330,146,330,147,331,147,328,146,328,146,324,148,324,147,326,146,336,147,324];

// short excursions of the model direction at a turn of the tide: [turn number, deg]
const spikes201_1 = [[24,360]];
const spikes202_1 = [[24,10]];
const spikes201_2 = [[24,355]];
const spikes202_2 = [[24,20]];
const spikes201_3 = [[24,350]];
const spikes202_3 = [[24,15]];
const spikes201_4 = [];
const spikes202_4 = [];
const spikes201_5 = [];
const spikes202_5 = [];
const spikes201_6 = [];
const spikes202_6 = [];
const spikes201_7 = [];
const spikes202_7 = [[7,76],[13,5],[15,85]];
const spikes201_8 = [[2,70],[4,0],[6,0]];
const spikes202_8 = [[1,49],[3,50],[5,15],[7,10],[9,10],[11,96],[13,10],[15,55],[17,73],[19,80],[21,110],[23,95],[25,100],[27,20],[29,60],[31,50]];
const spikes201_9 = [[2,100],[4,10],[6,10],[13,0],[27,20],[29,100],[36,30],[37,30]];
const spikes202_9 = [[0,10],[1,20],[3,20],[5,5],[6,40],[7,70],[8,10],[9,35],[11,60],[15,10],[17,30],[19,10],[21,10],[23,5],[25,60],[27,20],[29,10],[30,5],[31,0],[32,5]];

// ---- observed direction (deg), set A ----
const obsDir_1 = [318,150,120,118,135,160,345,330,322,110,125,130,140,60,340,328,318,125,120,135,140,20,345,332,325,110,130,145,150,60,340,330,320,120,110,125,140,45,345,330,325,130,125,140,150,90,350,330,320,140,115,130,145,55,345,328,320,135,120,135,150,35,340,330,325,130,120,130,140,70,345,332,322,125,115,135,150,15,340,335,325,110,130,140,145,40,345,330,320,125,110,140,150,5,350,340,330,120,125,135,140,30,330,325,320,110,130,140,135,85,335,330,320,130,115,130,150,20,340,330,320,120,125,140,150,60,335,325,310,100,120,130,145,40,345,330,315,130,120,130,135,50,340,335,320,110,125,135,140,10,345,330,325,140,150];
const obsDir_2 = [320,160,122,125,138,150,340,332,322,100,128,132,140,55,338,328,320,130,118,132,142,25,342,330,322,115,128,140,148,70,338,330,322,125,112,128,140,40,342,332,325,135,128,140,148,95,345,332,322,140,118,132,145,60,342,330,322,138,122,138,148,30,338,330,325,132,122,132,142,75,342,332,322,128,118,135,148,20,338,332,325,115,130,140,145,45,342,330,322,128,112,138,148,10,345,338,328,125,125,135,142,35,332,326,320,115,130,140,138,80,335,330,322,132,118,132,148,25,338,330,322,125,125,140,148,65,335,326,315,105,122,132,145,45,342,330,318,132,122,132,138,55,338,332,322,115,125,135,142,15,342,330,325,140,148];
const obsDir_3 = [322,165,125,128,140,145,338,330,322,95,130,135,142,50,336,328,320,135,120,135,145,30,340,330,322,120,130,142,148,75,336,330,322,130,115,130,142,35,340,332,325,138,130,142,150,100,342,332,322,142,120,135,145,65,340,330,322,140,125,140,148,25,336,330,325,135,125,135,145,80,340,332,322,130,120,138,148,15,336,330,325,120,132,142,148,50,340,330,322,130,115,140,148,20,342,336,328,128,128,138,145,40,332,326,320,120,132,142,140,85,335,330,322,135,120,135,148,30,336,330,322,128,128,142,148,70,335,326,318,110,125,135,145,50,340,330,320,135,125,135,140,60,336,332,322,120,128,138,142,20,340,330,325,142,148];
const obsDir_4 = [322,170,128,132,142,150,336,330,322,105,132,138,142,60,335,328,320,138,125,138,145,40,338,330,322,125,132,142,148,80,335,330,322,135,120,132,142,45,338,330,325,140,132,142,148,105,340,332,322,142,125,138,145,70,338,330,322,140,128,140,148,35,335,330,325,138,128,138,145,85,338,332,322,135,125,140,148,25,335,330,325,125,135,142,148,60,338,330,322,135,120,140,148,30,340,335,328,130,130,140,145,50,332,326,320,125,135,142,140,90,335,330,322,138,125,138,148,40,335,330,322,130,130,142,148,80,332,326,318,115,128,138,145,60,338,330,320,138,128,138,140,65,335,332,322,125,130,140,142,30,338,330,325,142,148];
const obsDir_5 = [325,175,130,135,142,155,335,330,325,110,135,140,142,70,335,328,322,140,128,140,145,50,338,330,325,130,135,142,148,90,335,330,325,138,125,135,142,55,338,330,325,142,135,142,148,110,338,332,325,145,128,140,145,80,335,330,325,142,130,142,148,45,335,330,325,140,130,140,145,95,338,332,325,138,128,142,148,35,335,330,325,130,135,142,148,70,338,330,325,138,125,140,148,40,338,335,328,135,132,140,145,60,332,328,322,130,135,142,140,95,335,330,325,140,128,140,148,50,335,330,325,135,132,142,148,85,332,328,320,120,130,140,145,70,335,330,322,140,130,140,142,75,335,332,325,130,132,140,142,40,338,330,325,142,148];
const obsDir_6 = [325,180,132,138,142,160,335,330,325,120,135,140,145,80,335,328,322,142,130,140,145,60,338,332,325,135,135,142,148,100,335,330,325,140,128,138,142,65,335,330,325,145,135,142,148,115,338,332,325,148,130,140,145,90,335,330,325,145,132,142,148,55,335,330,325,142,132,140,145,100,335,332,325,140,130,142,148,45,335,330,325,135,135,142,148,80,335,330,325,140,128,140,148,50,338,335,328,138,132,140,145,70,332,328,322,135,135,142,142,100,335,330,325,142,130,140,148,60,335,330,325,138,132,142,148,90,332,328,322,125,132,140,145,75,335,330,322,142,132,140,142,80,335,332,325,135,132,140,142,50,338,330,325,145,148];
const obsDir_7 = [330,185,135,140,135,165,340,335,330,125,135,140,140,90,338,332,328,145,132,140,138,70,340,335,332,140,135,142,140,110,338,332,328,142,130,138,140,75,338,332,328,148,135,140,142,120,340,335,328,150,132,140,140,95,338,332,328,148,132,140,142,60,335,330,325,145,132,138,142,105,338,332,325,142,130,140,145,50,335,330,325,138,135,140,145,85,338,330,325,142,130,140,145,55,340,335,330,140,132,140,142,75,335,330,322,140,135,142,142,105,338,332,325,145,130,140,145,65,338,332,325,140,132,142,145,95,335,330,322,130,132,140,142,80,338,332,325,145,132,140,142,85,338,332,325,140,132,140,142,55,340,330,325,148,148];
const obsDir_8 = [332,180,135,138,132,160,342,335,330,120,135,140,138,85,340,335,330,140,132,140,135,65,342,338,332,135,135,142,138,105,338,332,328,140,130,138,138,70,338,332,328,145,135,140,140,115,340,335,328,148,132,140,140,90,338,332,328,145,132,140,140,55,335,330,325,142,132,138,140,100,338,332,325,140,130,140,142,45,335,330,325,135,135,140,142,80,338,330,325,140,130,140,142,50,340,335,330,138,132,140,140,70,335,330,322,138,135,142,140,100,338,332,325,142,130,140,142,60,338,332,325,138,132,142,142,90,335,330,322,128,132,140,140,75,338,332,325,142,132,140,140,80,338,332,325,138,132,140,140,50,340,332,328,145,148];
const obsDir_9 = [335,175,138,140,130,155,345,338,332,115,138,140,135,80,342,338,332,135,135,140,132,60,345,340,335,130,138,142,135,100,340,335,330,138,132,138,135,65,340,335,330,142,138,140,138,110,342,338,330,145,135,140,138,85,340,335,330,142,135,140,138,50,338,332,328,140,135,138,138,95,340,335,328,138,132,140,140,40,338,332,328,130,138,140,140,75,340,332,328,138,132,140,140,45,342,338,332,135,135,140,138,65,338,332,325,135,138,142,138,95,340,335,328,140,132,140,140,55,340,335,328,135,135,142,140,85,338,332,325,125,135,140,138,70,340,335,328,140,135,140,138,75,340,335,328,135,135,140,138,45,342,335,330,142,148];

// ---- observed direction (deg), set B ----
const obsDirB_1 = [312,135,118,128,142,350,338,328,318,112,128,135,90,352,334,322,300,118,125,138,145,355,338,328,316,120,135,148,152,352,335,325,312,100,118,132,150,348,338,328,320,118,132,142,155,356,338,325,318,95,122,138,148,350,336,325,316,110,128,142,155,346,335,328,320,108,125,136,148,352,338,326,318,92,128,142,155,348,338,330,322,118,135,142,150,352,336,324,315,80,125,145,155,358,345,335,325,110,128,138,145,340,330,322,315,120,135,140,140,342,335,325,318,100,122,140,155,348,336,326,318,112,132,145,155,342,330,318,305,105,125,138,150,352,336,322,310,108,125,132,140,346,338,326,315,110,128,138,145,350,336,328,320,150,138];
const obsDirB_2 = [318,132,120,130,144,348,336,326,316,115,130,136,95,350,332,322,305,120,128,140,146,352,336,326,315,122,136,146,150,350,334,324,312,105,120,134,150,346,336,328,320,120,134,144,152,352,336,325,318,100,125,140,148,348,335,325,316,112,130,142,152,345,334,328,320,110,126,138,148,350,336,326,318,95,130,142,152,346,336,328,320,120,136,142,150,350,335,324,315,88,128,144,152,355,342,332,322,112,130,138,145,340,330,322,316,122,136,140,142,342,334,325,318,105,125,140,152,346,335,326,318,115,134,145,152,342,330,320,308,108,126,138,148,350,335,322,312,110,126,134,142,345,336,326,316,112,130,138,145,348,335,328,320,148,138];
const obsDirB_3 = [320,134,122,132,145,346,335,326,316,118,132,138,100,348,332,322,308,122,130,140,146,350,335,326,316,124,137,146,150,348,334,324,314,108,122,135,150,345,335,328,320,122,135,144,152,350,335,325,318,105,128,140,148,346,334,325,316,115,132,142,152,344,334,328,320,112,128,138,148,348,335,326,318,100,132,142,152,345,335,328,320,122,136,142,150,348,334,324,316,92,130,144,152,352,340,332,322,115,132,138,145,340,330,322,316,124,137,140,142,342,334,325,318,108,128,140,152,345,334,326,318,118,135,145,152,342,330,320,310,110,128,138,148,348,334,322,314,112,128,134,142,344,335,326,316,115,132,138,145,346,334,328,320,148,140];
const obsDirB_4 = [322,136,125,134,146,344,334,326,318,122,134,140,105,346,332,322,310,125,132,142,147,348,334,326,316,126,138,146,150,346,334,324,316,112,125,136,150,344,334,328,320,125,136,144,152,348,334,326,318,110,130,140,148,345,334,325,318,118,134,142,152,342,334,328,320,115,130,138,148,346,334,326,318,105,134,142,152,344,334,328,320,125,137,142,150,346,334,325,316,100,132,144,152,350,338,332,322,118,134,140,146,340,330,322,316,126,138,140,142,342,334,326,318,112,130,142,152,344,334,326,318,120,136,145,152,340,330,320,312,115,130,138,148,346,334,324,315,115,130,135,142,342,334,326,318,118,134,138,145,345,334,328,320,148,140];
const obsDirB_5 = [324,138,128,136,146,342,334,328,320,125,136,140,110,344,332,324,312,128,134,142,147,346,334,328,318,128,138,146,150,344,334,326,318,115,128,138,150,342,334,328,322,128,138,144,152,346,334,328,320,115,132,140,148,344,334,326,320,122,136,144,152,342,334,328,322,120,132,140,148,344,334,328,320,110,135,142,152,342,334,328,322,128,138,144,150,344,334,326,318,108,134,144,152,346,336,332,322,122,135,140,146,340,330,324,318,128,138,140,142,342,334,328,320,115,132,142,152,342,334,328,320,124,137,145,152,340,330,322,314,118,132,140,148,344,334,326,318,120,132,136,142,342,334,328,320,122,135,140,145,344,334,328,322,148,140];
const obsDirB_6 = [326,138,130,138,146,342,334,328,320,128,136,142,115,342,332,326,315,130,136,142,148,344,335,328,320,130,139,146,150,342,334,326,320,120,130,138,150,342,334,328,322,130,138,145,152,344,335,328,320,120,134,140,148,342,334,328,320,125,137,144,152,342,334,328,322,124,134,140,148,342,334,328,320,115,136,144,152,342,334,328,322,130,138,144,150,342,334,328,320,115,135,144,152,344,336,332,324,125,136,141,146,338,330,324,318,130,138,142,144,342,334,328,320,120,134,142,152,342,334,328,320,126,138,145,152,340,330,324,316,124,134,140,148,342,334,326,320,125,134,138,142,342,334,328,320,125,136,140,145,344,334,328,322,148,142];
const obsDirB_7 = [332,140,133,138,140,345,338,332,325,130,137,142,120,344,335,330,322,132,137,140,140,346,338,334,326,132,139,142,145,344,335,330,324,126,134,140,145,344,335,330,326,132,138,142,148,345,338,330,324,125,136,140,145,344,335,330,324,128,137,142,148,342,332,328,322,128,135,140,145,344,335,328,322,122,136,143,148,342,332,328,322,132,138,143,148,344,333,328,322,120,136,143,148,345,338,332,326,128,136,141,145,340,332,325,320,132,139,142,145,344,335,328,322,125,136,143,148,344,335,328,322,128,138,144,148,340,332,325,318,128,136,141,145,344,335,328,322,128,136,141,145,344,335,328,322,128,136,141,145,345,334,328,322,148,142];
const obsDirB_8 = [334,140,134,136,138,348,338,332,325,130,137,140,118,346,338,332,324,130,137,138,138,348,340,335,326,132,139,140,142,344,335,330,324,126,134,138,142,344,335,330,326,132,138,140,145,345,338,330,324,126,136,140,145,344,335,330,324,128,137,140,145,342,332,328,322,128,135,140,144,344,335,328,322,124,136,141,146,342,332,328,322,132,138,141,146,344,333,328,322,122,136,141,146,345,338,332,326,128,136,140,144,340,332,325,320,132,139,141,144,344,335,328,322,126,136,141,146,344,335,328,322,128,138,142,146,340,332,325,318,128,136,140,144,344,335,328,322,128,136,140,144,344,335,328,322,128,136,140,144,345,336,330,324,148,142];
const obsDirB_9 = [336,142,136,134,136,350,342,335,328,134,138,138,120,348,340,335,328,132,138,136,136,350,342,338,330,134,140,138,140,346,338,332,326,128,135,137,140,345,338,332,328,134,139,140,144,348,340,332,326,128,137,139,144,346,338,332,326,130,138,139,144,344,335,330,324,130,136,139,142,346,338,330,324,126,137,141,145,344,335,330,324,134,139,141,145,345,335,330,324,124,137,141,145,348,340,335,328,130,137,139,142,342,335,328,322,134,140,140,142,345,338,330,324,128,137,141,145,345,338,330,324,130,139,141,145,342,335,328,320,130,137,139,142,345,338,330,324,130,137,139,142,345,338,330,324,130,137,139,142,348,338,332,326,148,142];

// ---- skill scores shown in the direction panels ----
const MAG_R_201 = [0.458, 0.413, 0.366, 0.324, 0.288, 0.255, 0.240, 0.255, 0.304];
const MAG_ME_201 = [0.1661, 0.1753, 0.1863, 0.1929, 0.1935, 0.1916, 0.1878, 0.1797, 0.1673];
const MAG_RMSE_201 = [0.2653, 0.2861, 0.3082, 0.3286, 0.3457, 0.3635, 0.3784, 0.3859, 0.3832];
const CF_201 = [60.7, 58.6, 56.9, 56.1, 54.4, 54.8, 51.5, 49.0, 49.0];
const DIR_R_201 = [0.462, 0.541, 0.547, 0.602, 0.611, 0.652, 0.704, 0.686, 0.644];
const DIR_ME_201 = [-9.27, -16.37, -18.78, -19.48, -16.97, -14.76, -16.30, -19.10, -25.50];
const DIR_RMSE_201 = [98.00, 89.66, 88.20, 82.99, 83.17, 79.23, 71.77, 76.19, 84.11];
const MAG_R_202 = [0.464, 0.439, 0.406, 0.372, 0.338, 0.309, 0.295, 0.312, 0.358];
const MAG_ME_202 = [0.1916, 0.1962, 0.2019, 0.2029, 0.2006, 0.1969, 0.1915, 0.1824, 0.1715];
const MAG_RMSE_202 = [0.2917, 0.3062, 0.3228, 0.3374, 0.3512, 0.3653, 0.3774, 0.3826, 0.3800];
const CF_202 = [56.0, 55.0, 55.7, 54.3, 54.1, 52.5, 51.3, 49.2, 48.6];
const DIR_R_202 = [0.532, 0.578, 0.619, 0.647, 0.676, 0.696, 0.720, 0.726, 0.650];
const DIR_ME_202 = [-9.40, -12.10, -12.94, -13.40, -12.42, -14.19, -15.54, -17.03, -24.96];
const DIR_RMSE_202 = [90.17, 85.84, 81.44, 78.24, 75.20, 73.25, 70.80, 70.69, 82.90];

const SPEED_201 = [speed201_1, speed201_2, speed201_3, speed201_4, speed201_5, speed201_6, speed201_7, speed201_8, speed201_9];
const SPEED_202 = [speed202_1, speed202_2, speed202_3, speed202_4, speed202_5, speed202_6, speed202_7, speed202_8, speed202_9];
const OBS_SPEED = [obsSpeed_1, obsSpeed_2, obsSpeed_3, obsSpeed_4, obsSpeed_5, obsSpeed_6, obsSpeed_7, obsSpeed_8, obsSpeed_9];
const OBS_SPEED_B = [obsSpeedB_1, obsSpeedB_2, obsSpeedB_3, obsSpeedB_4, obsSpeedB_5, obsSpeedB_6, obsSpeedB_7, obsSpeedB_8, obsSpeedB_9];
const DIR_201 = [dir201_1, dir201_2, dir201_3, dir201_4, dir201_5, dir201_6, dir201_7, dir201_8, dir201_9];
const DIR_202 = [dir202_1, dir202_2, dir202_3, dir202_4, dir202_5, dir202_6, dir202_7, dir202_8, dir202_9];
const SPIKES_201 = [spikes201_1, spikes201_2, spikes201_3, spikes201_4, spikes201_5, spikes201_6, spikes201_7, spikes201_8, spikes201_9];
const SPIKES_202 = [spikes202_1, spikes202_2, spikes202_3, spikes202_4, spikes202_5, spikes202_6, spikes202_7, spikes202_8, spikes202_9];
const OBS_DIR = [obsDir_1, obsDir_2, obsDir_3, obsDir_4, obsDir_5, obsDir_6, obsDir_7, obsDir_8, obsDir_9];
const OBS_DIR_B = [obsDirB_1, obsDirB_2, obsDirB_3, obsDirB_4, obsDirB_5, obsDirB_6, obsDirB_7, obsDirB_8, obsDirB_9];

// ---- layout (in figure pixels of a 5000 x 3600 figure) ----
const FIG_W = 5000, FIG_H = 3600;
const FONT = "'DejaVu Sans', sans-serif";
const ROW_TOP = 207, ROW_PITCH = 378, PLOT_H = 292;
const MARGIN_TOP = 70, MARGIN_BOTTOM = 70, MARGIN_RIGHT = 70;
const COLS = [
  { plotLeft: 133, plotWidth: 2302, axisWidth: 133, labelPad: 23.2 },
  { plotLeft: 2625, plotWidth: 2298, axisWidth: 135, labelPad: 12.2 },
];
const GRID = 'rgba(176,176,176,0.3)';
const BLUE = '#0000ff', GREEN = '#008000', RED = '#ff0000';

// fit the figure to the viewport actually given to the page
const root = document.getElementById('root');
const SX = Math.min(1, window.innerWidth / FIG_W);
const SY = Math.min(1, window.innerHeight / FIG_H);
const PIXEL_RATIO = Math.max(1, (window.devicePixelRatio || 1) * Math.min(SX, SY));
root.style.transform = 'scale(' + SX + ',' + SY + ')';
document.body.style.width = (FIG_W * SX) + 'px';
document.body.style.height = (FIG_H * SY) + 'px';

const framePlugin = {
  id: 'frame',
  afterDatasetsDraw(chart) {
    const { ctx, chartArea: a } = chart;
    ctx.save();
    ctx.strokeStyle = '#000';
    ctx.lineWidth = 2.2;
    ctx.strokeRect(a.left, a.top, a.right - a.left, a.bottom - a.top);
    ctx.restore();
  }
};

function series(vals, t0, dt) {
  return vals.map((v, i) => ({ x: t0 + dt * i, y: v }));
}

function spikeSeries(spikes, plateaus) {
  const out = [];
  spikes.forEach(([n, v]) => {
    const t = DIR_T0 + DIR_DT * (n + 0.5);
    const a = plateaus[n], b = plateaus[n + 1] !== undefined ? plateaus[n + 1] : a;
    const base = v < 230 ? Math.min(a, b) : Math.max(a, b);
    out.push({ x: t, y: base }, { x: t, y: v }, { x: t, y: null });
  });
  return out;
}

function addCanvas(col, row) {
  const c = document.createElement('canvas');
  const w = col.axisWidth + col.plotWidth + MARGIN_RIGHT;
  const h = MARGIN_TOP + PLOT_H + MARGIN_BOTTOM;
  c.width = w; c.height = h;
  c.style.width = w + 'px'; c.style.height = h + 'px';
  c.style.left = (col.plotLeft - col.axisWidth) + 'px';
  c.style.top = (ROW_TOP + row * ROW_PITCH - MARGIN_TOP) + 'px';
  root.appendChild(c);
  return c;
}

function xAxis(showLabels) {
  return {
    type: 'linear', min: 0, max: 240,
    afterFit: s => { s.height = MARGIN_BOTTOM; s.paddingLeft = 0; s.paddingRight = 0; },
    ticks: {
      stepSize: 24, autoSkip: false, maxRotation: 0, minRotation: 0, display: showLabels,
      color: '#000', font: { family: FONT, size: 28 }, padding: 8,
      callback: v => DAY_LABELS[Math.round(v / 24)]
    },
    grid: { color: GRID, lineWidth: 2, drawTicks: true, tickLength: 10, tickColor: '#000', tickWidth: 2.2 },
    border: { display: true, color: '#000', width: 2.2 }
  };
}

function yAxis(col, max, step, fmt, label) {
  return {
    type: 'linear', min: 0, max: max,
    afterFit: s => { s.width = col.axisWidth; s.paddingTop = 0; s.paddingBottom = 0; },
    ticks: { stepSize: step, includeBounds: false, color: '#000', font: { family: FONT, size: 28 }, padding: 10, callback: fmt },
    grid: { color: GRID, lineWidth: 2, drawTicks: true, tickLength: 10, tickColor: '#000', tickWidth: 2.2 },
    border: { display: true, color: '#000', width: 2.2 },
    title: { display: true, text: label, color: '#000', font: { family: FONT, size: 28 }, padding: { top: col.labelPad, bottom: 0 } }
  };
}

function baseOptions(title, x, y) {
  return {
    responsive: false, animation: false, devicePixelRatio: PIXEL_RATIO, events: [],
    layout: { padding: { left: 0, right: MARGIN_RIGHT, top: 0, bottom: 0 } },
    plugins: {
      legend: { display: false },
      tooltip: { enabled: false },
      title: { display: true, text: title, color: '#000', font: { family: FONT, size: 28, weight: 'normal' }, padding: { top: 26, bottom: 10.4 } }
    },
    scales: { x: x, y: y }
  };
}

function obsSet(vals, t0) {
  return { label: SERIES[0], data: series(vals, t0, OBS_DT), showLine: false, pointRadius: 3.8,
           pointBackgroundColor: RED, pointBorderWidth: 0, clip: 0, order: 3 };
}

function lineSet(label, data, color, width, order, extra) {
  return Object.assign({ label: label, data: data, borderColor: color, borderWidth: width, pointRadius: 0,
                         fill: false, spanGaps: false, clip: 0, order: order }, extra || {});
}

for (let b = 0; b < 9; b++) {
  const bottom = b === 8;

  // speed panel
  new Chart(addCanvas(COLS[0], b), {
    type: 'line',
    data: { datasets: [
      obsSet(OBS_SPEED[b], OBS_T0),
      obsSet(OBS_SPEED_B[b], OBS_B_T0),
      lineSet(SERIES[1], series(SPEED_201[b], SPEED_T0, SPEED_DT), BLUE, 3.6, 2, { cubicInterpolationMode: 'monotone' }),
      lineSet(SERIES[2], series(SPEED_202[b], SPEED_T0, SPEED_DT), GREEN, 1.8, 1, { cubicInterpolationMode: 'monotone' })
    ] },
    options: baseOptions('Bin ' + (b + 1) + ' \u2014 depth=' + BIN_DEPTHS[b] + ' m (NAVD)',
                         xAxis(bottom), yAxis(COLS[0], 2, 0.5, v => v.toFixed(1), 'Speed (m/s)')),
    plugins: [framePlugin]
  });

  // direction panel
  new Chart(addCanvas(COLS[1], b), {
    type: 'line',
    data: { datasets: [
      obsSet(OBS_DIR[b], OBS_T0),
      obsSet(OBS_DIR_B[b], OBS_B_T0),
      lineSet(SERIES[1], series(DIR_201[b], DIR_T0, DIR_DT), BLUE, 3.6, 2, { stepped: 'middle' }),
      lineSet(SERIES[1], spikeSeries(SPIKES_201[b], DIR_201[b]), BLUE, 3.6, 2),
      lineSet(SERIES[2], series(DIR_202[b], DIR_T0, DIR_DT), GREEN, 1.8, 1, { stepped: 'middle' }),
      lineSet(SERIES[2], spikeSeries(SPIKES_202[b], DIR_202[b]), GREEN, 1.8, 1)
    ] },
    options: baseOptions('Bin ' + (b + 1) + ' \u2014 Direction',
                         xAxis(bottom), yAxis(COLS[1], 360, 100, v => String(v), 'Direction (deg)')),
    plugins: [framePlugin]
  });

  // skill score box
  const s = document.createElement('div');
  s.className = 'stats';
  s.style.left = (COLS[1].plotLeft + 33) + 'px';
  s.style.top = (ROW_TOP + b * ROW_PITCH + 34) + 'px';
  s.textContent =
    SERIES[1] + ' | Mag: R=' + MAG_R_201[b].toFixed(3) + ', ME=' + MAG_ME_201[b].toFixed(4) + ', RMSE=' + MAG_RMSE_201[b].toFixed(4) +
    ', CF=' + CF_201[b].toFixed(1) + '% | Dir: R=' + DIR_R_201[b].toFixed(3) + ', ME=' + DIR_ME_201[b].toFixed(2) + ', RMSE=' + DIR_RMSE_201[b].toFixed(2) + '\n' +
    SERIES[2] + ' | Mag: R=' + MAG_R_202[b].toFixed(3) + ', ME=' + MAG_ME_202[b].toFixed(4) + ', RMSE=' + MAG_RMSE_202[b].toFixed(4) +
    ', CF=' + CF_202[b].toFixed(1) + '% | Dir: R=' + DIR_R_202[b].toFixed(3) + ', ME=' + DIR_ME_202[b].toFixed(2) + ', RMSE=' + DIR_RMSE_202[b].toFixed(2);
  root.appendChild(s);
}

// legends in the two top panels
[COLS[0], COLS[1]].forEach(col => {
  const lg = document.createElement('div');
  lg.className = 'legend';
  lg.style.left = (col.plotLeft + col.plotWidth - 316) + 'px';
  lg.style.top = '218px';
  const marks = ['<span class="dot"></span>',
                 '<span class="ln" style="top:14px;height:3.6px;background:' + BLUE + '"></span>',
                 '<span class="ln" style="top:15px;height:1.8px;background:' + GREEN + '"></span>'];
  SERIES.forEach((name, i) => {
    const r = document.createElement('div');
    r.className = 'row';
    r.innerHTML = marks[i];
    r.appendChild(document.createTextNode(name));
    lg.appendChild(r);
  });
  root.appendChild(lg);
});
</script>
</body>
</html>
